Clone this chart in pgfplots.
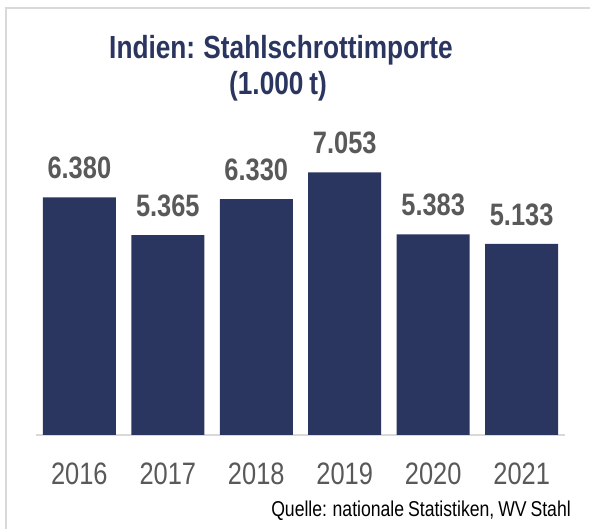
\documentclass[border=0pt]{standalone}
\usepackage{pgfplots}
\pgfplotsset{compat=1.18}
\usepackage{fontspec}
\setmainfont{Liberation Sans}[FakeStretch=0.82, WordSpace=0.8]
\definecolor{navy}{HTML}{2B3660}
\definecolor{labgray}{HTML}{595959}
\definecolor{framegray}{HTML}{D9D9D9}
\begin{document}
\begin{tikzpicture}
\path[use as bounding box, fill=white] (0pt,0pt) rectangle (590pt,529pt);
\draw[framegray, line width=2pt] (6pt,0pt) -- (6pt,520.5pt) -- (590pt,520.5pt);
\node[anchor=base, text=navy, inner sep=0pt] at (281pt,470pt) {\fontsize{32}{36}\selectfont\bfseries Indien: Stahlschrottimporte};
\node[anchor=base, text=navy, inner sep=0pt] at (278pt,434pt) {\fontsize{32}{36}\selectfont\bfseries (1.000 t)};
\node[anchor=base east, text=black, inner sep=0pt] at (571pt,12pt) {\fontsize{21.5}{24}\selectfont Quelle: nationale Statistiken, WV Stahl};
\begin{axis}[
  at={(36pt,94pt)}, anchor=south west,
  scale only axis,
  width=529pt, height=298pt,
  xmin=-0.49, xmax=5.49, ymin=0, ymax=8000,
  axis x line=bottom, axis y line=none,
  x axis line style={framegray, line width=1.5pt, -},
  xtick=data,
  xticklabels={2016,2017,2018,2019,2020,2021},
  major tick length=0pt,
  xticklabel style={font=\fontsize{31}{36}\selectfont, text=labgray, inner sep=0pt, anchor=north, yshift=-28pt},
  ytick=\empty,
  clip=false,
  point meta=explicit symbolic,
  nodes near coords,
  nodes near coords style={font=\fontsize{31}{36}\selectfont\bfseries, text=labgray, anchor=south, inner sep=0pt, yshift=18pt},
]
\addplot[ybar, bar width=73pt, fill=navy, draw=none] coordinates {
  (0,6380) [6.380]
  (1,5365) [5.365]
  (2,6330) [6.330]
  (3,7053) [7.053]
  (4,5383) [5.383]
  (5,5133) [5.133]
};
\end{axis}
\end{tikzpicture}
\end{document}
